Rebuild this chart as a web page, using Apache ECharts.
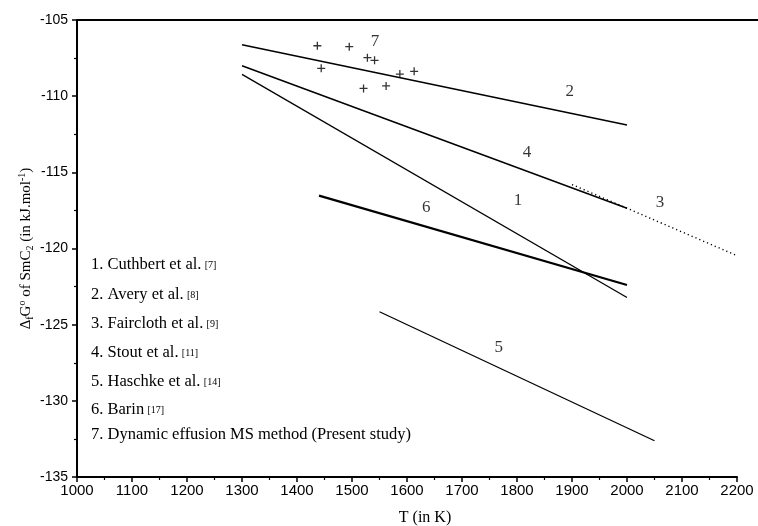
<!DOCTYPE html>
<html>
<head>
<meta charset="utf-8">
<script src="https://cdn.jsdelivr.net/npm/echarts@6/dist/echarts.min.js"></script>
<style>
html, body { margin: 0; padding: 0; background: #fff; }
#chart { width: 758px; height: 526px; }
</style>
</head>
<body>
<div id="chart"></div>
<script>
// lines, [T, dG]
var line1 = [[1300, -108.57], [2000, -123.22]];
var line2 = [[1300, -106.62], [2000, -111.89]];
var line3 = [[1900, -115.8], [2200, -120.47]];
var line4 = [[1300, -108.0], [2000, -117.36]];
var line5 = [[1550, -124.15], [2050, -132.62]];
var line6 = [[1440, -116.53], [2000, -122.4]];
// present study points
var msT = [1437, 1495, 1528, 1541, 1444, 1587, 1613, 1521, 1562];
var msG = [-106.69, -106.75, -107.47, -107.65, -108.17, -108.55, -108.37, -109.49, -109.33];
// line numbers beside the curves
var tagName = ["1", "2", "3", "4", "5", "6", "7"];
var tagT = [1802, 1896, 2060, 1818, 1767, 1635, 1542];
var tagG = [-116.82, -109.7, -117.01, -113.67, -126.53, -117.28, -106.44];
// legend text
var refName = ["1. Cuthbert et al.", "2. Avery et al.", "3. Faircloth et al.", "4. Stout et al.",
    "5. Haschke et al.", "6. Barin", "7. Dynamic effusion MS method (Present study)"];
var refNum = ["[7]", "[8]", "[9]", "[11]", "[14]", "[17]", ""];
var refY = [265, 295, 324, 353, 382, 410, 435];

var chart = echarts.init(document.getElementById("chart"));

var serif = "'Liberation Serif', 'DejaVu Serif', serif";
var sans = "'Liberation Sans', Arial, sans-serif";

function lineSeries(data, w, dotted) {
    return {
        type: "line",
        data: data,
        symbol: "none",
        silent: true,
        lineStyle: { color: "#000", width: w, type: dotted ? [1.2, 3] : "solid" }
    };
}

var msData = [];
for (var i = 0; i < msT.length; i++) {
    msData.push([msT[i], msG[i]]);
}
var tagData = [];
for (var j = 0; j < tagName.length; j++) {
    tagData.push({ name: tagName[j], value: [tagT[j], tagG[j]] });
}

var legendItems = [];
for (var k = 0; k < refName.length; k++) {
    legendItems.push({
        type: "text",
        x: 91,
        y: refY[k],
        silent: true,
        style: {
            text: "{a|" + refName[k] + "}" + (refNum[k] ? " {r|" + refNum[k] + "}" : ""),
            verticalAlign: "middle",
            fill: "#000",
            rich: {
                a: { fontFamily: serif, fontSize: 16.5, fill: "#000" },
                r: { fontFamily: serif, fontSize: 10, fill: "#000" }
            }
        }
    });
}
//top frame line
legendItems.push({
    type: "line",
    silent: true,
    shape: { x1: 77, y1: 20, x2: 758, y2: 20 },
    style: { stroke: "#000", lineWidth: 2 }
});

var option = {
    backgroundColor: "#fff",
    animation: false,
    grid: { left: 77, top: 20, right: 21, bottom: 49, containLabel: false, outerBoundsMode: "none" },
    xAxis: {
        type: "value",
        min: 1000,
        max: 2200,
        interval: 100,
        name: "T (in K)",
        nameLocation: "middle",
        nameGap: 33,
        nameTextStyle: { fontFamily: serif, fontSize: 16, color: "#000", padding: [0, 0, 0, 36] },
        axisLine: { onZero: false, lineStyle: { color: "#000", width: 2 } },
        axisTick: { inside: false, length: 5, lineStyle: { color: "#000", width: 1.5 } },
        minorTick: { show: true, splitNumber: 2, length: 3, lineStyle: { color: "#000", width: 1.2 } },
        axisLabel: {
            fontFamily: sans, fontSize: 15, color: "#000", margin: 6,
            formatter: function(v) { return String(v); }
        },
        splitLine: { show: false }
    },
    yAxis: {
        type: "value",
        min: -135,
        max: -105,
        interval: 5,
        name: "{m|Δ}{s|f}{m|G}{p|o}{m| of SmC}{s|2}{m| (in kJ.mol}{p|-1}{m|)}",
        nameLocation: "middle",
        nameGap: 42,
        nameMoveOverlap: false,
        nameRotate: 90,
        nameTextStyle: {
            color: "#000",
            rich: {
                m: { fontFamily: serif, fontSize: 15, lineHeight: 18, color: "#000" },
                s: { fontFamily: serif, fontSize: 10, lineHeight: 10, verticalAlign: "bottom", color: "#000" },
                p: { fontFamily: serif, fontSize: 10, lineHeight: 10, verticalAlign: "top", color: "#000" }
            }
        },
        axisLine: { onZero: false, lineStyle: { color: "#000", width: 2 } },
        axisTick: { inside: false, length: 5, lineStyle: { color: "#000", width: 1.5 } },
        minorTick: { show: true, splitNumber: 2, length: 3, lineStyle: { color: "#000", width: 1.2 } },
        axisLabel: { fontFamily: sans, fontSize: 14, color: "#000", margin: 9 },
        splitLine: { show: false }
    },
    graphic: legendItems,
    series: [
        lineSeries(line1, 1.3, false),
        lineSeries(line2, 1.6, false),
        lineSeries(line3, 1.4, true),
        lineSeries(line4, 1.5, false),
        lineSeries(line5, 1.3, false),
        lineSeries(line6, 2.2, false),
        {
            type: "scatter",
            data: msData,
            symbol: "path://M0,5L10,5M5,0L5,10",
            symbolSize: 8,
            silent: true,
            itemStyle: { color: "none", borderColor: "#000", borderWidth: 1.3 }
        },
        {
            type: "scatter",
            data: tagData,
            symbolSize: 1,
            silent: true,
            itemStyle: { color: "rgba(0,0,0,0)" },
            label: {
                show: true,
                position: "inside",
                formatter: "{b}",
                fontFamily: serif,
                fontSize: 17,
                color: "#000"
            }
        }
    ]
};

chart.setOption(option);
</script>
</body>
</html>
